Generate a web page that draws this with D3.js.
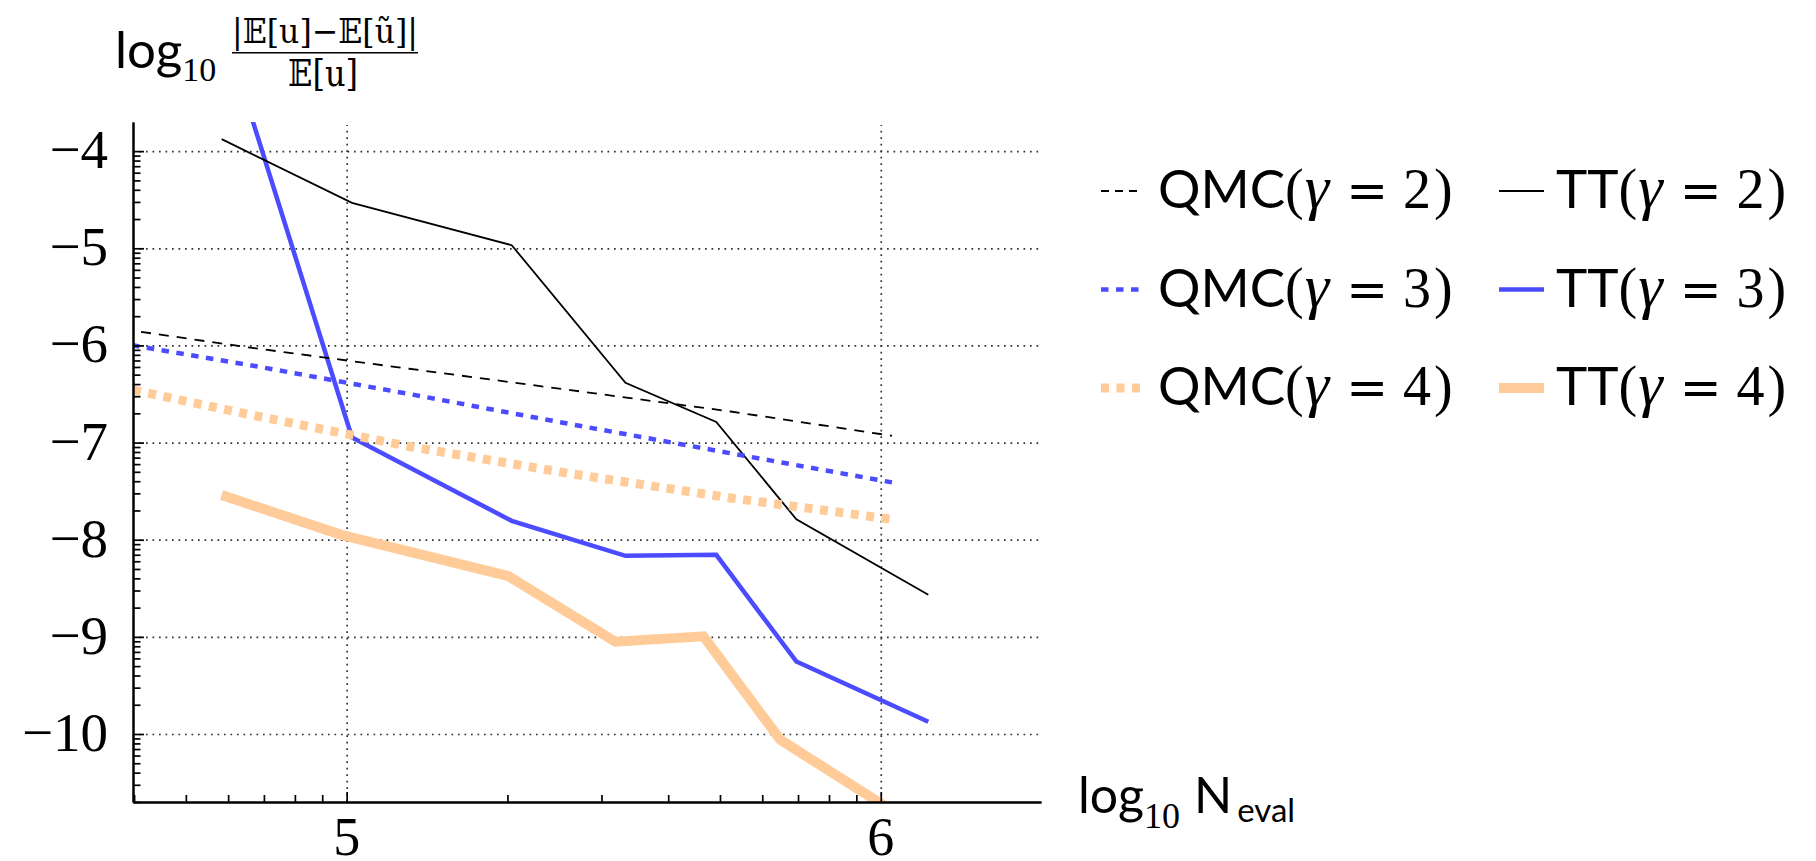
<!DOCTYPE html>
<html>
<head>
<meta charset="utf-8">
<script src="https://cdn.jsdelivr.net/npm/d3@7"></script>
<style>
  body { margin: 0; background: #fff; }
  svg { display: block; }
</style>
</head>
<body>
<svg id="chart" width="1816" height="861"></svg>
<script>
// x = log10 N_eval, y = log10 of relative error
const qmcX = [4.515, 4.816, 5.117, 5.419, 5.719, 6.021]
const qmc2 = [-5.78, -6.02, -6.24, -6.46, -6.68, -6.93]
const qmc3 = [-5.92, -6.20, -6.50, -6.81, -7.11, -7.41]
const qmc4 = [-6.36, -6.71, -7.04, -7.32, -7.57, -7.79]

const ttX = [4.766, 5.01, 5.309, 5.522, 5.692, 5.842, 6.089]
const tt2 = [-3.876, -4.532, -4.968, -6.385, -6.787, -7.79, -8.567]
const tt3 = [-2.67, -6.947, -7.806, -8.166, -8.156, -9.254, -9.874]
const tt4X = [4.766, 4.99, 5.303, 5.503, 5.668, 5.812, 6.03]
const tt4 = [-7.54, -7.95, -8.375, -9.05, -8.995, -10.06, -10.82]

const yTicks = [-4, -5, -6, -7, -8, -9, -10]
const xTicks = [5, 6]
const gammas = ['2', '3', '4']

const blue = '#4b4bff', peach = '#ffcc99'

const serif = 'Liberation Serif, Times New Roman, serif'
const sans = 'Lato, Open Sans, sans-serif'
const math = 'DejaVu Serif, DejaVu Sans, serif'

const svg = d3.select('#chart')

// plot box
let pL = 133, pR = 1041, pT = 122, pB = 802
let x = d3.scaleLinear().domain([4.6, 6.3]).range([pL, pR])
let y = d3.scaleLinear().domain([-10.7, -3.7]).range([pB, pT])

svg.append('defs').append('clipPath').attr('id', 'plot')
  .append('rect').attr('x', pL).attr('y', pT)
  .attr('width', pR - pL).attr('height', pB - pT)

// dotted grid
const gridY = d3.axisLeft(y).tickValues(yTicks).tickSize(-(pR - pL)).tickFormat('')
svg.append('g').attr('transform', `translate(${pL},0)`).call(gridY)
  .call(g => g.select('.domain').remove())
  .selectAll('line').attr('stroke', '#333').attr('stroke-width', 1.7).attr('stroke-dasharray', '1.7,4.8')

const gridX = d3.axisBottom(x).tickValues(xTicks).tickSize(-(pB - pT - 3)).tickFormat('')
svg.append('g').attr('transform', `translate(0,${pB})`).call(gridX)
  .call(g => g.select('.domain').remove())
  .selectAll('line').attr('stroke', '#333').attr('stroke-width', 1.7).attr('stroke-dasharray', '1.7,4.8')

// series
const series = [
  {xs: qmcX, ys: qmc2, color: '#000', width: 1.8, dash: '10,8'},
  {xs: qmcX, ys: qmc3, color: blue, width: 4.5, dash: '7.5,7.5'},
  {xs: qmcX, ys: qmc4, color: peach, width: 9, dash: '8,7.5'},
  {xs: ttX, ys: tt2, color: '#000', width: 1.8, dash: null},
  {xs: ttX, ys: tt3, color: blue, width: 4.5, dash: null},
  {xs: tt4X, ys: tt4, color: peach, width: 10, dash: null}
]

const lines = svg.append('g').attr('clip-path', 'url(#plot)')
series.slice().reverse().forEach(s => {
  let makeLine = d3.line().x((d, i) => x(s.xs[i])).y(d => y(d))
  lines.append('path')
    .attr('d', makeLine(s.ys))
    .attr('fill', 'none')
    .attr('stroke', s.color)
    .attr('stroke-width', s.width)
    .attr('stroke-dasharray', s.dash)
    .attr('stroke-linejoin', 'miter')
})

// minor ticks at log10 positions
const minor = (lo, hi) => {
  let out = []
  for (let d = Math.floor(lo) - 1; d <= Math.ceil(hi); d++)
    for (let k = 2; k <= 9; k++) {
      let v = d + Math.log10(k)
      if (v > lo && v < hi) out.push(v)
    }
  return out
}

const styleAxis = g => {
  g.selectAll('line').attr('stroke', '#000').attr('stroke-width', 1.7)
  g.select('.domain').attr('stroke', '#000').attr('stroke-width', 2)
}

svg.append('g').attr('transform', `translate(${pL},0)`)
  .call(d3.axisLeft(y).tickValues(minor(-10.7, -3.7)).tickSize(-7.5).tickSizeOuter(0).tickFormat(''))
  .call(styleAxis)
svg.append('g').attr('transform', `translate(${pL},0)`)
  .call(d3.axisLeft(y).tickValues(yTicks).tickSize(-11).tickSizeOuter(0).tickFormat(''))
  .call(styleAxis)
svg.append('g').attr('transform', `translate(0,${pB})`)
  .call(d3.axisBottom(x).tickValues(minor(4.6, 6.3)).tickSize(-7).tickSizeOuter(0).tickFormat(''))
  .call(styleAxis)
svg.append('g').attr('transform', `translate(0,${pB})`)
  .call(d3.axisBottom(x).tickValues(xTicks).tickSize(-10).tickSizeOuter(0).tickFormat(''))
  .call(styleAxis)

// tick labels
svg.append('g').selectAll('text').data(yTicks).enter().append('text')
  .attr('x', 108).attr('y', d => y(d) + 17)
  .attr('text-anchor', 'end')
  .attr('font-family', serif).attr('font-size', 55)
  .text(d => '\u2212' + Math.abs(d))

svg.append('g').selectAll('text').data(xTicks).enter().append('text')
  .attr('x', d => x(d)).attr('y', 855)
  .attr('text-anchor', 'middle')
  .attr('font-family', serif).attr('font-size', 54)
  .text(d => d)

// y title
let yt = svg.append('text').attr('x', 115).attr('y', 68)
yt.append('tspan').attr('font-family', sans).attr('font-size', 51).text('log')
yt.append('tspan').attr('font-family', serif).attr('font-size', 34).attr('dy', 13).text('10')

svg.append('text').attr('x', 325).attr('y', 43).attr('text-anchor', 'middle')
  .attr('font-family', math).attr('font-size', 34)
  .attr('textLength', 186).attr('lengthAdjust', 'spacingAndGlyphs')
  .text('|\u{1D53C}[u]\u2212\u{1D53C}[\u0169]|')
svg.append('line').attr('x1', 232).attr('x2', 418).attr('y1', 52.7).attr('y2', 52.7)
  .attr('stroke', '#000').attr('stroke-width', 1.6)
svg.append('text').attr('x', 323).attr('y', 86).attr('text-anchor', 'middle')
  .attr('font-family', math).attr('font-size', 38)
  .attr('textLength', 70).attr('lengthAdjust', 'spacingAndGlyphs')
  .text('\u{1D53C}[u]')

// x title
let xt = svg.append('text').attr('x', 1078).attr('y', 813)
xt.append('tspan').attr('font-family', sans).attr('font-size', 50).text('log')
xt.append('tspan').attr('font-family', serif).attr('font-size', 36).attr('dy', 15).text('10')
xt.append('tspan').attr('font-family', sans).attr('font-size', 50).attr('dy', -15).attr('dx', 14).text('N')
xt.append('tspan').attr('font-family', sans).attr('font-size', 33).attr('dy', 9).attr('dx', 5).text('eval')

// legend: QMC column then TT column
const legendCols = [
  {name: 'QMC', lineX: 1101, textX: 1158, items: series.slice(0, 3)},
  {name: 'TT', lineX: 1499, textX: 1556, items: series.slice(3)}
]
legendCols.forEach(col => {
  col.items.forEach((s, i) => {
    let base = 208 + i * 98.5
    let g = svg.append('g')
    g.append('line')
      .attr('x1', col.lineX).attr('x2', col.lineX + (col.name === 'QMC' ? 40 : 45))
      .attr('y1', base - 17).attr('y2', base - 17)
      .attr('stroke', s.color).attr('stroke-width', s.width)
      .attr('stroke-dasharray', s.dash ? (s.color === '#000' ? '8,6' : s.dash) : null)
    let t = g.append('text').attr('x', col.textX).attr('y', base)
    t.append('tspan').attr('font-family', sans).attr('font-size', 53).text(col.name)
    t.append('tspan').attr('font-family', serif).attr('font-size', 56).text('(')
    t.append('tspan').attr('font-family', serif).attr('font-size', 62).attr('font-style', 'italic').attr('dx', 1).text('\u03B3')
    t.append('tspan').attr('font-family', math).attr('font-size', 50).attr('dx', 17).text('=')
    t.append('tspan').attr('font-family', serif).attr('font-size', 56).attr('dx', 15).text(gammas[i])
    t.append('tspan').attr('font-family', serif).attr('font-size', 56).attr('dx', 3).text(')')
  })
})
</script>
</body>
</html>
